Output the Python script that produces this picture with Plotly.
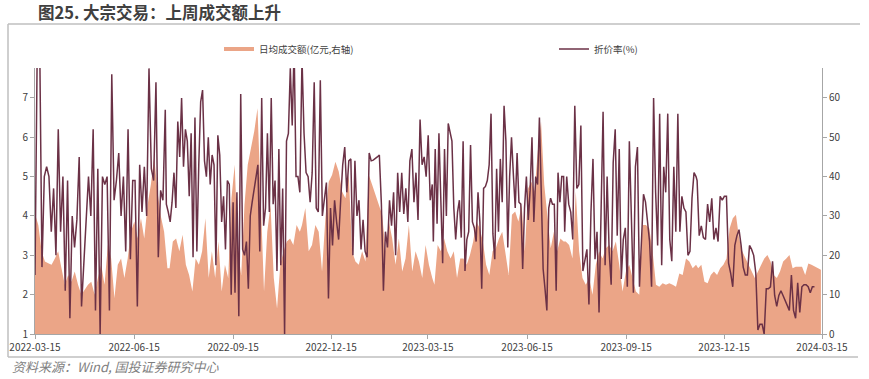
import pandas as pd
import plotly.graph_objects as go

# ---------------- data ----------------
TITLE = "图25. 大宗交易：上周成交额上升"
SOURCE = "资料来源：Wind, 国投证券研究中心"
AREA_NAME = "日均成交额(亿元,右轴)"
LINE_NAME = "折价率(%)"

X_TICKS = ["2022-03-15", "2022-06-15", "2022-09-15", "2022-12-15", "2023-03-15",
           "2023-06-15", "2023-09-15", "2023-12-15", "2024-03-15"]
LEFT_TICKS = [1, 2, 3, 4, 5, 6, 7]
RIGHT_TICKS = [0, 10, 20, 30, 40, 50, 60]

# date windows covered by each block of readings
LINE_BOUNDS = [("2022-03-15", "2022-07-14"), ("2022-07-15", "2022-11-16"),
               ("2022-11-18", "2023-03-19"), ("2023-03-20", "2023-07-19"),
               ("2023-07-20", "2023-11-19"), ("2023-11-20", "2024-03-08")]
AREA_BOUNDS = [("2022-03-15", "2022-07-16"), ("2022-07-18", "2022-11-16"),
               ("2022-11-18", "2023-03-19"), ("2023-03-21", "2023-07-19"),
               ("2023-07-21", "2023-11-19"), ("2023-11-21", "2024-03-14")]

# 折价率(%) - left axis
line_1 = [2.5, 8.5, 8.5, 2.7, 5.0, 5.25, 5.0, 3.6, 4.7, 3.0, 6.2, 3.6, 5.0, 2.1, 4.9, 1.4, 4.0,
          3.2, 3.9, 5.5, 1.7, 2.7, 3.9, 5.0, 4.0, 6.2, 1.6, 5.2, 1.0, 5.0, 4.8, 5.0, 1.6, 7.6,
          4.4, 4.9, 5.6, 4.0, 5.0, 3.1, 6.2, 2.9, 4.9, 4.9, 1.7, 5.3, 4.1, 5.25, 4.0, 7.75,
          5.2, 4.9, 7.4, 2.95, 4.65, 4.4, 6.7]
line_2 = [4.3, 4.1, 3.85, 4.35, 5.1, 4.2, 6.4, 5.5, 7.0, 5.25, 6.2, 5.9, 4.5, 6.1, 2.95, 6.5,
          3.1, 5.3, 6.9, 7.2, 5.4, 5.0, 6.0, 4.8, 5.55, 5.3, 2.75, 6.05, 5.55, 3.85, 4.5, 3.15,
          4.9, 4.8, 2.0, 4.35, 2.05, 4.6, 1.45, 7.1, 3.15, 3.0, 3.35, 2.15, 4.0, 4.35, 4.7,
          5.0, 5.3, 3.1, 7.0, 3.75, 4.2, 6.1, 4.1, 7.0, 4.3, 4.9, 2.6, 5.7, 2.75, 4.7, 1.0,
          5.9, 6.1, 7.75, 6.3, 8.3, 5.0, 5.0, 4.6]
line_3 = [8.0, 6.1, 5.1, 5.0, 4.35, 5.1, 7.4, 4.2, 4.1, 7.45, 4.0, 4.4, 4.85, 1.9, 4.2, 3.25,
          4.4, 3.85, 3.4, 4.4, 5.3, 5.75, 4.6, 5.4, 5.45, 3.0, 5.4, 4.0, 4.4, 3.15, 3.9, 3.1,
          2.95, 5.6, 5.4, 5.42, 5.45, 5.5, 5.55, 4.3, 2.1, 3.6, 3.2, 4.4, 3.75, 4.6, 3.0, 5.1,
          4.1, 5.1, 4.05, 4.7, 3.85, 5.4, 5.7, 4.35, 5.1, 3.9, 6.45, 5.3, 5.5, 5.0, 6.05, 4.4,
          4.8]
line_4 = [3.35, 5.7, 3.8, 6.1, 4.1, 2.8, 5.7, 4.0, 6.35, 6.1, 5.9, 4.2, 3.4, 4.1, 4.4, 3.45,
          5.9, 2.6, 3.4, 3.6, 5.8, 3.85, 3.7, 3.35, 4.6, 3.85, 2.15, 4.7, 4.75, 4.9, 5.3, 6.6,
          3.55, 2.9, 5.2, 3.6, 5.45, 4.35, 6.8, 5.9, 3.2, 5.0, 6.0, 5.05, 4.2, 5.6, 4.35, 4.3,
          2.65, 4.2, 5.0, 3.9, 4.65, 6.0, 3.85, 5.0, 4.8, 6.5, 4.4, 2.65, 2.15, 1.6, 4.2, 4.45,
          4.3, 4.3, 2.1, 5.1, 4.35, 5.0, 5.0]
line_5 = [3.6, 5.0, 4.3, 4.1, 3.4, 6.8, 4.7, 4.8, 6.3, 2.6, 2.9, 3.15, 1.75, 4.1, 5.45, 2.9,
          3.6, 1.55, 4.1, 6.65, 2.75, 5.0, 3.1, 2.25, 5.35, 6.2, 3.5, 5.7, 2.4, 3.4, 3.7, 2.2,
          5.9, 3.75, 2.05, 5.25, 5.75, 2.2, 3.5, 4.55, 4.35, 3.9, 3.35, 2.2, 7.0, 4.6, 3.25,
          6.6, 2.75, 5.25, 4.6, 6.6, 3.4, 2.85, 5.25, 3.6, 6.6, 3.6, 4.5, 4.2, 4.1, 3.0, 3.1,
          4.45, 5.1, 5.0]
line_6 = [4.9, 3.5, 3.75, 3.45, 3.4, 4.3, 3.85, 4.45, 3.4, 3.7, 3.35, 4.5, 4.4, 4.5, 4.5, 2.8,
          2.55, 2.2, 3.25, 3.5, 3.65, 3.25, 2.7, 2.5, 2.5, 3.25, 3.15, 3.0, 2.55, 1.1, 1.25,
          1.25, 1.0, 2.15, 2.15, 2.2, 2.85, 1.98, 1.7, 1.98, 2.1, 1.98, 1.85, 1.7, 1.6, 2.5,
          1.6, 1.4, 2.3, 1.55, 2.2, 2.25, 2.25, 2.2, 2.05, 2.2, 2.2]

# 日均成交额(亿元) - right axis
area_1 = [30.5, 27.7, 21, 18.4, 18, 17.6, 19.2, 21, 16.7, 12.5, 15, 13.3, 15.9, 12.5, 10, 11.2,
          12.5, 13.3, 10, 14.2, 17.6, 12.5, 22.6, 19.2, 9.1, 17.6, 19.2, 14.2, 19.2, 26, 28.6,
          24.3, 29.4, 24.3, 32.8, 38, 45, 36.2, 30, 26, 16.7]
area_2 = [16.7, 23.5, 24.3, 21, 25.2, 17.6, 15, 10.8, 19.2, 17.6, 21, 29.4, 14.2, 21, 14.2,
          23.5, 10.8, 17.6, 14.2, 34.5, 43, 21, 15, 32.8, 43, 47.2, 51.5, 57.4, 34.5, 10.8, 26,
          32.8, 14.2, 6.5, 17.6, 21, 23.5, 24.3, 22.6, 27.7, 26]
area_3 = [27.7, 32, 21, 22.6, 27.7, 26, 15.9, 29.4, 38.7, 40.4, 43.8, 41.3, 36.2, 34.5, 40.4,
          21, 18.4, 17.6, 21, 18.4, 40.4, 37.9, 35.3, 32.8, 30.3, 21, 28.6, 24.3, 17.6, 24.3,
          15.9, 19.2, 27.7, 15.9, 21, 18.4, 14.2, 22.6, 17.6, 14.2]
area_4 = [12.5, 22.6, 21, 24.3, 21, 19.2, 21, 14.2, 19.2, 19.2, 17.6, 20.1, 23.5, 28.6, 26.9,
          23.5, 17.6, 15, 21, 21.8, 24.3, 26, 21, 15, 30.3, 31.1, 28.6, 32.8, 21, 37, 38.7,
          36.2, 46.4, 54, 37.9, 30.3, 21.8, 26, 21, 24.3, 23.5]
area_5 = [23.5, 22.6, 19.2, 36.2, 21, 14.2, 12.5, 14.2, 10, 17.6, 21, 19.2, 21.8, 22.6, 21,
          23.5, 17.6, 10.8, 15.9, 17.6, 14.2, 10.8, 10, 27.7, 27.7, 26.9, 21, 12.5, 12, 12.9,
          12.5, 12.9, 12.5, 12, 15.4, 15, 19.2, 18.4, 16.7, 17.6]
area_6 = [16.7, 17.6, 13.3, 12.9, 15, 15.9, 15, 16.7, 17.6, 19.2, 26.9, 29.4, 30.3, 24.3, 21,
          19.2, 17.6, 15.9, 14.2, 15.9, 17.6, 19.2, 20.1, 18.4, 15, 14.2, 15.9, 18.4, 19.2,
          20.1, 16.7, 17.1, 17.1, 17.1, 15, 17.9, 17.6, 17.1, 16.7, 16.3]

LINE_SEGS = [line_1, line_2, line_3, line_4, line_5, line_6]
AREA_SEGS = [area_1, area_2, area_3, area_4, area_5, area_6]

# ---------------- build ----------------
def assemble(segs, bounds):
    xs, ys = [], []
    for vals, (s, e) in zip(segs, bounds):
        xs.extend(pd.date_range(s, e, periods=len(vals)))
        ys.extend(vals)
    return xs, ys

line_x, line_y = assemble(LINE_SEGS, LINE_BOUNDS)
area_x, area_y = assemble(AREA_SEGS, AREA_BOUNDS)

ORANGE = "#EBA587"
MAROON = "#6B3146"
AXIS = "#A6A6A6"
FONT = "Noto Sans CJK SC, Noto Sans, sans-serif"

fig = go.Figure()
fig.add_trace(go.Scatter(x=area_x, y=area_y, mode="lines", fill="tozeroy",
                         fillcolor=ORANGE, line=dict(width=0, color=ORANGE),
                         showlegend=False, yaxis="y", hoverinfo="skip"))
fig.add_trace(go.Scatter(x=[None], y=[None], mode="lines", name=AREA_NAME,
                         line=dict(color=ORANGE, width=4), legend="legend", yaxis="y"))
fig.add_trace(go.Scatter(x=line_x, y=line_y, mode="lines", name=LINE_NAME,
                         line=dict(color=MAROON, width=1.5), legend="legend2", yaxis="y2"))

W, H = 869, 379
PL, PR, PT, PB = 35, 822, 68, 334          # plot box in pixels
L, T, R, B = PL, PT, W - PR, H - PB
pw, ph = W - L - R, H - T - B

def px(x):   # pixel -> paper x
    return (x - L) / pw

def py(y):   # pixel -> paper y
    return (H - B - y) / ph

tickfont = dict(family=FONT, size=10, color="#404040")
axis_common = dict(showgrid=False, zeroline=False, showline=True, linecolor=AXIS,
                   linewidth=1, ticks="outside", ticklen=4, tickcolor=AXIS,
                   tickfont=tickfont, automargin=False, ticklabeloverflow="allow")
legfont = dict(family=FONT, size=9.5, color="#404040")
fig.update_layout(
    width=W, height=H, margin=dict(l=L, r=R, t=T, b=B, autoexpand=False),
    paper_bgcolor="white", plot_bgcolor="white",
    font=dict(family=FONT, size=10, color="#404040"),
    title=dict(text="<b>" + TITLE + "</b>", x=38 / W, y=1 - 13.5 / H,
               xanchor="left", yanchor="middle",
               font=dict(family=FONT, size=16.5, color="#404040")),
    xaxis=dict(type="date", range=["2022-03-15", "2024-03-15"], tickvals=X_TICKS,
               ticktext=X_TICKS, **axis_common),
    yaxis=dict(side="right", range=[0, 67.6], tickvals=RIGHT_TICKS, **axis_common),
    yaxis2=dict(side="left", overlaying="y", range=[1, 7.76], tickvals=LEFT_TICKS,
                **axis_common),
    legend=dict(orientation="h", x=px(219), y=py(49), xanchor="left", yanchor="middle",
                font=legfont, bgcolor="rgba(0,0,0,0)", itemwidth=30),
    legend2=dict(orientation="h", x=px(554), y=py(49), xanchor="left", yanchor="middle",
                 font=legfont, bgcolor="rgba(0,0,0,0)", itemwidth=30),
    showlegend=True,
)

frame = dict(color="#BFBFBF", width=1.5)
fig.add_shape(type="line", xref="paper", yref="paper", x0=px(8), x1=px(860),
              y0=py(24), y1=py(24), line=frame)
fig.add_shape(type="line", xref="paper", yref="paper", x0=px(8), x1=px(8),
              y0=py(24), y1=py(357), line=frame)
fig.add_shape(type="line", xref="paper", yref="paper", x0=px(8), x1=px(858),
              y0=py(357), y1=py(357), line=frame)

fig.add_annotation(text="<i>" + SOURCE + "</i>", xref="paper", yref="paper",
                   x=px(10), y=py(366), xanchor="left", yanchor="middle", showarrow=False,
                   font=dict(family=FONT, size=13, color="#7F7F7F"))

# remove the browser's default 8px body margin so the figure fills the window
fig.write_html("out.html", config={"displayModeBar": False, "staticPlot": True},
               post_script="document.body.style.margin='0';")
